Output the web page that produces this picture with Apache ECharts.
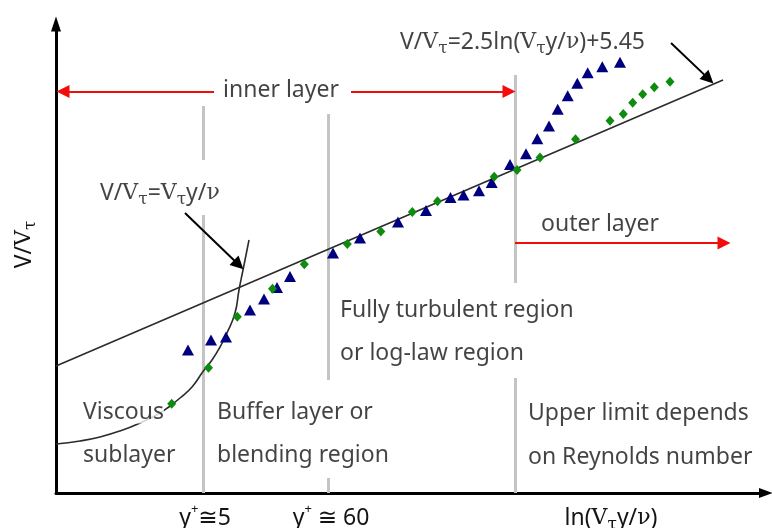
<!DOCTYPE html>
<html>
<head>
<meta charset="utf-8">
<script src="https://cdn.jsdelivr.net/npm/echarts@6/dist/echarts.min.js"></script>
<style>
  html, body { margin: 0; padding: 0; background: #ffffff; }
  #chart { width: 772px; height: 528px; }
</style>
</head>
<body>
<div id="chart"></div>
<script>
// Law of the wall, schematic: V/Vτ against ln(Vτ y / ν).
// Both axes are in arbitrary diagram units (no numeric ticks are shown).

// Measured profile, series 1 (triangles)
const triangleSeries = [
  [132, 143], [155, 153], [170, 156], [194, 183], [208, 194], [221, 205.5],
  [234, 216.5], [277, 240], [304, 255], [342, 271], [370, 282.5], [394.5, 295.5],
  [407.5, 298], [423, 302.3], [435.7, 310.5], [454, 328.5], [470, 339.3],
  [481.3, 354.3], [493, 367], [501.7, 383.7], [511.7, 397.3], [521.3, 409.7],
  [531.7, 420.3], [546.3, 426.3], [564, 430.7]
];

// Measured profile, series 2 (diamonds)
const diamondSeries = [
  [115.7, 89.3], [152.5, 125.3], [181.3, 176.3], [216.5, 204.3], [248.3, 228.7],
  [291.3, 249], [324.8, 261.5], [356.3, 281], [381.5, 291.8], [438.2, 316.3],
  [461, 323], [484, 335.5], [519.5, 353.7], [554, 372.3], [567.3, 379],
  [576.7, 390.3], [586.7, 398.7], [598.3, 405.7], [614, 411.3]
];

// Viscous sublayer curve  V/Vτ = Vτ y / ν
const viscousCurve = [
  [0, 49], [24, 52], [44, 56], [64, 62], [84, 70], [104, 80], [114, 87],
  [124, 95], [136, 106], [147, 121.5], [156, 133], [164, 146], [171, 160],
  [179, 180], [183, 203], [187, 223], [191, 243], [193, 253]
];

// Log law  V/Vτ = 2.5 ln(Vτ y / ν) + 5.45
const logLawLine = [[0, 127], [667, 413]];

// Region boundaries: y+ ≅ 5, y+ ≅ 60, upper limit of the inner layer
const regionBounds = [147, 272, 459];

// Labels under the horizontal axis
const xTickValues = [149, 275, 555];
const xTickLabels = [
  '{n|y}{sup|+}{n|≅5}',
  '{n|y}{sup|+}{n| ≅ 60}',
  '{n|ln(}{v|V}{t|τ}{n|y/}{v|ν}{n|)}'
];
const yAxisTitle = '{n|V/}{v|V}{t|τ}';

// Equations and region names
const eqLogLaw = '{n|V/}{v|V}{t|τ}{n|=2.5ln(}{v|V}{t|τ}{n|y/}{v|ν}{n|)+5.45}';
const eqViscous = '{n|V/}{v|V}{t|τ}{n|=}{v|V}{t|τ}{n|y/}{v|ν}';
const regionNames = [
  'inner layer', 'outer layer',
  'Fully turbulent region', 'or log-law region',
  'Viscous', 'sublayer',
  'Buffer layer or', 'blending region',
  'Upper limit depends', 'on Reynolds number'
];

const SANS = "'Noto Sans', 'DejaVu Sans', sans-serif";
const SERIF = "'DejaVu Serif', 'Liberation Serif', serif";
const TXT = '#141414';
const FS = 23;

const rich = {
  n: { fontFamily: SANS, fontSize: FS, color: TXT, lineHeight: 30 },
  v: { fontFamily: SERIF, fontSize: 22, color: TXT, lineHeight: 30 },
  t: { fontFamily: SERIF, fontSize: 17, color: TXT, lineHeight: 17, verticalAlign: 'bottom' },
  sup: { fontFamily: SANS, fontSize: 13, color: TXT, lineHeight: 13, verticalAlign: 'top' }
};

function note(x, y, text, align, extra) {
  return {
    value: [x, y],
    label: Object.assign({
      show: true,
      formatter: text,
      position: align === 'center' ? 'inside' : 'right',
      distance: 0,
      fontFamily: SANS,
      fontSize: FS,
      color: TXT,
      rich: rich
    }, extra || {})
  };
}

const notes = [
  note(225, 403, regionNames[0], 'center', { backgroundColor: '#fff' }),
  note(485, 269, regionNames[1], 'left'),
  note(284, 183, regionNames[2], 'left'),
  note(284, 140, regionNames[3], 'left'),
  note(27, 81, regionNames[4], 'left', { backgroundColor: '#fff' }),
  note(27, 38, regionNames[5], 'left'),
  note(161, 81, regionNames[6], 'left'),
  note(161, 38, regionNames[7], 'left'),
  note(472, 80, regionNames[8], 'left'),
  note(472, 36, regionNames[9], 'left'),
  note(344, 451, eqLogLaw, 'left'),
  note(44, 300, eqViscous, 'left')
];

// Grey boundary lines, broken where text sits over them
const greySegments = [
  { coords: [[regionBounds[0], 387], [regionBounds[0], 333]] },
  { coords: [[regionBounds[0], 278], [regionBounds[0], 0]] },
  { coords: [[regionBounds[1], 379], [regionBounds[1], 113]] },
  { coords: [[regionBounds[1], 15], [regionBounds[1], 0]] },
  { coords: [[regionBounds[2], 418], [regionBounds[2], 210]] },
  { coords: [[regionBounds[2], 115], [regionBounds[2], 0]] }
];

const redArrows = [
  { coords: [[158, 401.5], [7, 401.5]] },
  { coords: [[295, 401.5], [453, 401.5]] },
  { coords: [[459, 250], [668, 250]] }
];

const blackArrows = [
  { coords: [[129, 280], [182.7, 228.2]] },
  { coords: [[615, 450], [652.7, 414.1]] }
];

const chart = echarts.init(document.getElementById('chart'), null, { renderer: 'canvas' });

chart.setOption({
  animation: false,
  backgroundColor: '#ffffff',
  grid: { left: 56, right: 6, top: 24, bottom: 35, containLabel: false, outerBoundsMode: 'none' },
  xAxis: {
    type: 'value',
    min: 0,
    max: 710,
    axisLine: {
      lineStyle: { color: '#000', width: 3 },
      symbol: ['none', 'triangle'],
      symbolSize: [10, 14]
    },
    axisTick: { show: false },
    splitLine: { show: false },
    axisLabel: {
      customValues: xTickValues,
      formatter: function (v) { return xTickLabels[xTickValues.indexOf(v)]; },
      margin: 10,
      rich: rich
    }
  },
  yAxis: {
    type: 'value',
    min: 0,
    max: 469,
    axisLine: {
      lineStyle: { color: '#000', width: 3 },
      symbol: ['none', 'triangle'],
      symbolSize: [10, 15]
    },
    axisTick: { show: false },
    splitLine: { show: false },
    axisLabel: { show: false },
    name: yAxisTitle,
    nameLocation: 'middle',
    nameRotate: 90,
    nameGap: 17,
    nameTextStyle: { rich: rich, padding: [0, 0, 0, 28] }
  },
  series: [
    {
      type: 'lines',
      coordinateSystem: 'cartesian2d',
      silent: true,
      z: 1,
      symbol: 'none',
      lineStyle: { color: '#c4c4c4', width: 3, opacity: 1 },
      data: greySegments
    },
    {
      type: 'lines',
      coordinateSystem: 'cartesian2d',
      silent: true,
      z: 3,
      symbol: ['none', 'triangle'],
      symbolSize: [9, 13],
      lineStyle: { color: '#f20d0d', width: 2, opacity: 1 },
      itemStyle: { color: '#f20d0d' },
      data: redArrows
    },
    {
      type: 'lines',
      coordinateSystem: 'cartesian2d',
      silent: true,
      z: 3,
      symbol: ['none', 'triangle'],
      symbolSize: [9, 13],
      lineStyle: { color: '#000', width: 2, opacity: 1 },
      itemStyle: { color: '#000' },
      data: blackArrows
    },
    {
      type: 'line',
      data: logLawLine,
      showSymbol: false,
      silent: true,
      z: 2,
      lineStyle: { color: '#2b2b2b', width: 1.6 }
    },
    {
      type: 'line',
      data: viscousCurve,
      smooth: true,
      showSymbol: false,
      silent: true,
      z: 2,
      lineStyle: { color: '#2b2b2b', width: 1.6 }
    },
    {
      type: 'scatter',
      data: triangleSeries,
      symbol: 'triangle',
      symbolSize: [12, 11],
      z: 4,
      itemStyle: { color: '#00007f', opacity: 1 }
    },
    {
      type: 'scatter',
      data: diamondSeries,
      symbol: 'diamond',
      symbolSize: [9, 10],
      z: 4,
      itemStyle: { color: '#0e8c0e', opacity: 1 }
    },
    {
      type: 'scatter',
      data: notes,
      symbolSize: 0,
      clip: false,
      silent: true,
      z: 6
    }
  ]
});
</script>
</body>
</html>
